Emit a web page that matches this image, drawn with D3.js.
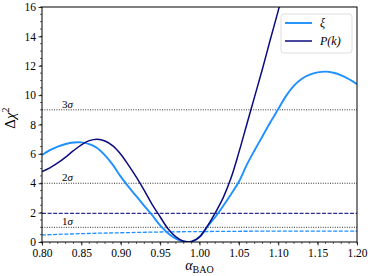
<!DOCTYPE html>
<html><head><meta charset="utf-8">
<script src="https://cdn.jsdelivr.net/npm/d3@7"></script>
<style>
html,body{margin:0;padding:0;background:#fff;}
svg text{font-family:"Liberation Serif","DejaVu Serif",serif;fill:#000;}
</style></head>
<body><svg id="chart" width="374" height="276"></svg>
<script>
const alphaGrid = [0.80,0.81,0.82,0.83,0.84,0.85,0.86,0.87,0.88,0.89,0.90,0.91,0.92,0.93,0.94,0.95,0.96,0.97,0.98,0.99,1.00,1.01,1.02,1.03,1.04,1.05,1.06,1.07,1.08,1.09,1.10,1.11,1.12,1.13,1.14,1.15,1.16,1.17,1.18,1.19,1.20];
const xiChi2 = [5.92,6.25,6.50,6.67,6.77,6.78,6.66,6.40,5.90,5.25,4.45,3.75,3.10,2.45,1.82,1.13,0.60,0.22,0.03,0.03,0.33,1.05,1.70,2.45,3.25,4.10,5.25,6.25,7.20,8.15,9.05,9.95,10.65,11.12,11.40,11.55,11.60,11.52,11.35,11.08,10.75];
const pkAlpha = [0.80,0.81,0.82,0.83,0.84,0.85,0.86,0.87,0.88,0.89,0.90,0.91,0.92,0.93,0.94,0.95,0.96,0.97,0.98,0.99,1.00,1.01,1.02,1.03,1.04,1.05,1.06,1.07,1.08,1.09,1.10,1.11];
const pkChi2 = [4.79,5.05,5.38,5.78,6.22,6.62,6.90,7.00,6.88,6.55,5.98,5.22,4.40,3.50,2.55,1.72,0.90,0.35,0.05,0.03,0.35,1.08,1.98,3.00,4.35,6.10,8.00,9.90,11.80,13.80,15.75,17.80];
const xiDashAlpha = [0.80,0.85,0.90,0.95,1.00,1.05,1.10,1.15,1.20];
const xiDashChi2 = [0.48,0.57,0.63,0.68,0.71,0.73,0.74,0.74,0.74];
const pkDashChi2 = 1.95;
const sigmaLevels = [1,4,9];
const sigmaLabels = ["1σ","2σ","3σ"];
const xTicks = [0.80,0.85,0.90,0.95,1.00,1.05,1.10,1.15,1.20];
const yTicks = [0,2,4,6,8,10,12,14,16];
const seriesNames = ["ξ","P(k)"];

const svg = d3.select("#chart");
const L=42, R=357, T=7, B=242;
const x = d3.scaleLinear().domain([0.8,1.2]).range([L,R]);
const y = d3.scaleLinear().domain([0,16]).range([B,T]);
const cXi = "#1E90FF", cPk = "#0b0b80";

svg.append("defs").append("clipPath").attr("id","clip")
  .append("rect").attr("x",L).attr("y",T).attr("width",R-L).attr("height",B-T);
const g = svg.append("g").attr("clip-path","url(#clip)");

// sigma dotted lines
sigmaLevels.forEach(v=>{
  g.append("line").attr("x1",x(0.8)).attr("x2",x(1.2)).attr("y1",y(v)).attr("y2",y(v))
   .attr("stroke","#333").attr("stroke-width",1).attr("stroke-dasharray","1,1.4");
});
// dashed lines
g.append("line").attr("x1",x(0.8)).attr("x2",x(1.2)).attr("y1",y(pkDashChi2)).attr("y2",y(pkDashChi2))
  .attr("stroke",cPk).attr("stroke-opacity",0.85).attr("stroke-width",1.2).attr("stroke-dasharray","4,1.6");
const line = d3.line().x(d=>x(d[0])).y(d=>y(d[1])).curve(d3.curveCatmullRom.alpha(0.5));
g.append("path").attr("d",line(xiDashAlpha.map((a,i)=>[a,xiDashChi2[i]])))
  .attr("fill","none").attr("stroke",cXi).attr("stroke-width",1.3).attr("stroke-dasharray","4,1.6");

g.append("path").attr("d",line(alphaGrid.map((a,i)=>[a,xiChi2[i]])))
  .attr("fill","none").attr("stroke",cXi).attr("stroke-width",1.9);
g.append("path").attr("d",line(pkAlpha.map((a,i)=>[a,pkChi2[i]])))
  .attr("fill","none").attr("stroke",cPk).attr("stroke-width",1.5);

// sigma labels
sigmaLevels.forEach((v,i)=>{
  svg.append("text").attr("x",62).attr("y",y(v)-2).attr("font-size",11).text(sigmaLabels[i][0])
    .append("tspan").attr("font-style","italic").text(sigmaLabels[i].slice(1));
});

// axes
const xMinor = d3.range(0.80,1.2001,0.01);
const yMinor = d3.range(0,16.001,0.5);
const ax = svg.append("g");
ax.selectAll(".xm").data(xMinor).enter().append("line")
  .attr("x1",d=>x(d)).attr("x2",d=>x(d)).attr("y1",B).attr("y2",B+2).attr("stroke","#000").attr("stroke-width",0.6);
ax.selectAll(".ym").data(yMinor).enter().append("line")
  .attr("y1",d=>y(d)).attr("y2",d=>y(d)).attr("x1",L).attr("x2",L-2).attr("stroke","#000").attr("stroke-width",0.6);
const xAxis = svg.append("g").attr("transform",`translate(0,${B})`)
  .call(d3.axisBottom(x).tickValues(xTicks).tickFormat(d3.format(".2f")).tickSize(3.5).tickPadding(3));
const yAxis = svg.append("g").attr("transform",`translate(${L},0)`)
  .call(d3.axisLeft(y).tickValues(yTicks).tickFormat(d3.format("d")).tickSize(3.5).tickPadding(2.5));
[xAxis,yAxis].forEach(a=>{
  a.select(".domain").remove();
  a.selectAll("line").attr("stroke","#000").attr("stroke-width",0.8);
  a.selectAll("text").attr("font-family","'Liberation Serif','DejaVu Serif',serif").attr("font-size",11.5).attr("fill","#000");
});
svg.append("rect").attr("x",L).attr("y",T).attr("width",R-L).attr("height",B-T)
  .attr("fill","none").attr("stroke","#000").attr("stroke-width",1);

// axis labels
const xl = svg.append("text").attr("x",(L+R)/2).attr("y",270).attr("text-anchor","middle").attr("font-size",14);
xl.append("tspan").attr("font-style","italic").text("α");
xl.append("tspan").attr("font-size",10).attr("dy",3).text("BAO");
const yl = svg.append("text").attr("transform",`translate(15,118) rotate(-90)`).attr("text-anchor","middle").attr("font-size",15);
yl.append("tspan").text("Δ");
yl.append("tspan").attr("font-style","italic").text("χ");
yl.append("tspan").attr("font-size",10).attr("dy",-6).text("2");

// legend
const lg = svg.append("g");
lg.append("rect").attr("x",281).attr("y",14).attr("width",71).attr("height",39).attr("rx",3)
  .attr("fill","#fff").attr("fill-opacity",0.8).attr("stroke","#d6d6d6").attr("stroke-width",0.8);
[[cXi,1.9],[cPk,1.5]].forEach((c,i)=>{
  const yy = 23 + i*18;
  lg.append("line").attr("x1",285).attr("x2",312).attr("y1",yy).attr("y2",yy).attr("stroke",c[0]).attr("stroke-width",c[1]);
  lg.append("text").attr("x",320).attr("y",yy+4).attr("font-size",12).attr("font-style","italic").text(seriesNames[i]);
});
</script></body></html>
